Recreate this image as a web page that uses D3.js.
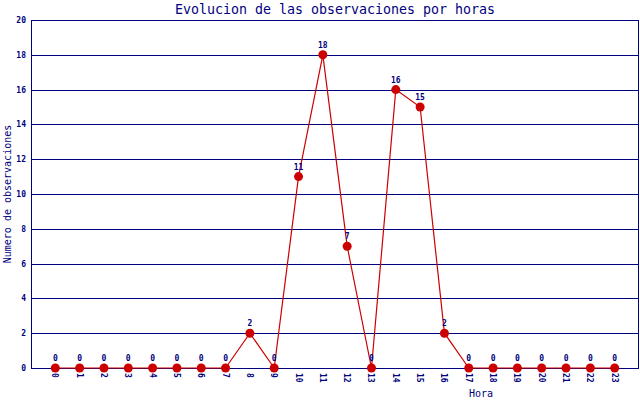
<!DOCTYPE html>
<html>
<head>
<meta charset="utf-8">
<script src="https://cdn.jsdelivr.net/npm/d3@7"></script>
<style>
  body { margin: 0; background: #fff; }
  svg { display: block; }
  text { font-family: "DejaVu Sans Mono", "Liberation Mono", monospace; fill: #000080; }
</style>
</head>
<body>
<div id="chart"></div>
<script>
// horas del dia
const horas = [0, 1, 2, 3, 4, 5, 6, 7, 8, 9, 10, 11, 12, 13, 14, 15, 16, 17, 18, 19, 20, 21, 22, 23];
// observaciones por hora
const observaciones = [0, 0, 0, 0, 0, 0, 0, 0, 2, 0, 11, 18, 7, 0, 16, 15, 2, 0, 0, 0, 0, 0, 0, 0];
const yTicks = [0, 2, 4, 6, 8, 10, 12, 14, 16, 18, 20];

const width = 640, height = 400;
const margin = { top: 20, right: 1, bottom: 32, left: 31 };
const navy = "#000080", red = "#cc0000";

const svg = d3.select("#chart")
    .append("svg")
    .attr("width", width)
    .attr("height", height);

const x = d3.scaleLinear()
    .domain([-1, 24])
    .range([margin.left, width - margin.right]);

const y = d3.scaleLinear()
    .domain([0, 20])
    .range([height - margin.bottom, margin.top]);

// grid lines
svg.append("g")
    .attr("shape-rendering", "crispEdges")
    .selectAll("line")
    .data(yTicks)
    .join("line")
        .attr("x1", margin.left)
        .attr("x2", width - margin.right)
        .attr("y1", d => Math.round(y(d)) + 0.5)
        .attr("y2", d => Math.round(y(d)) + 0.5)
        .attr("stroke", navy)
        .attr("stroke-width", 1.2);

// right border
svg.append("line")
    .attr("shape-rendering", "crispEdges")
    .attr("x1", width - margin.right - 0.5)
    .attr("x2", width - margin.right - 0.5)
    .attr("y1", y(20))
    .attr("y2", y(0))
    .attr("stroke", navy);

// left axis
svg.append("line")
    .attr("shape-rendering", "crispEdges")
    .attr("x1", margin.left + 0.5)
    .attr("x2", margin.left + 0.5)
    .attr("y1", y(20))
    .attr("y2", y(0) + 1)
    .attr("stroke", navy)
    .attr("stroke-width", 1.2);

svg.append("g")
    .selectAll("text")
    .data(yTicks)
    .join("text")
        .attr("x", margin.left - 5)
        .attr("y", d => y(d) + 3)
        .attr("text-anchor", "end")
        .style("font-size", "8px")
        .style("font-weight", "bold")
        .text(d => d);

// x tick labels rotated
svg.append("g")
    .selectAll("text")
    .data(horas)
    .join("text")
        .attr("transform", d => `translate(${x(d) - 3},${y(0) + 5}) rotate(90)`)
        .attr("text-anchor", "start")
        .style("font-size", "8px")
        .style("font-weight", "bold")
        .text(d => d);

// line
const line = d3.line()
    .x((d, i) => x(horas[i]))
    .y(d => y(d));

svg.append("path")
    .datum(observaciones)
    .attr("fill", "none")
    .attr("stroke", red)
    .attr("stroke-width", 1.2)
    .attr("d", line);

svg.append("g")
    .selectAll("circle")
    .data(observaciones)
    .join("circle")
        .attr("cx", (d, i) => x(horas[i]))
        .attr("cy", d => y(d))
        .attr("r", 4.5)
        .attr("fill", red);

// value labels
svg.append("g")
    .selectAll("text")
    .data(observaciones)
    .join("text")
        .attr("x", (d, i) => x(horas[i]))
        .attr("y", d => y(d) - 7)
        .attr("text-anchor", "middle")
        .style("font-size", "8px")
        .style("font-weight", "bold")
        .text(d => d);

// titles
svg.append("text")
    .attr("x", 335)
    .attr("y", 14)
    .attr("text-anchor", "middle")
    .style("font-size", "13.3px")
    .text("Evolucion de las observaciones por horas");

svg.append("text")
    .attr("x", 481)
    .attr("y", 397)
    .attr("text-anchor", "middle")
    .style("font-size", "10px")
    .text("Hora");

svg.append("text")
    .attr("transform", "translate(11,194) rotate(-90)")
    .attr("text-anchor", "middle")
    .style("font-size", "10px")
    .text("Numero de observaciones");
</script>
</body>
</html>
